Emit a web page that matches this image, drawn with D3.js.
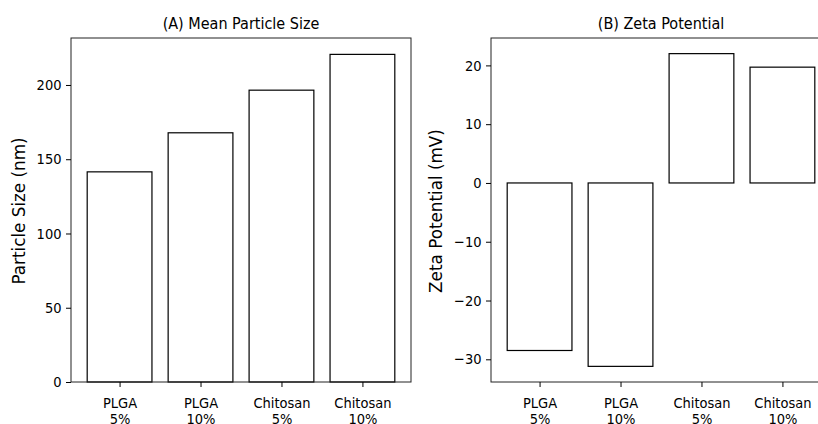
<!DOCTYPE html>
<html lang="en">
<head>
    <meta charset="UTF-8">
    <title>Particle size and zeta potential</title>
    <script src="https://d3js.org/d3.v7.min.js"></script>
    <style>
        body { margin: 0; padding: 0; background: white; overflow: hidden; }
        svg { display: block; }
        .tick text { font-family: 'DejaVu Sans Condensed', 'DejaVu Sans', sans-serif; font-size: 14.5px; fill: #000; }
        .title { font-family: 'DejaVu Sans Condensed', 'DejaVu Sans', sans-serif; font-size: 16px; }
        .ylabel { font-family: 'DejaVu Sans', sans-serif; font-size: 16.8px; }
    </style>
</head>
<body>
<div id="chart"></div>
<script>
    // data
    var categories = ["PLGA\n5%", "PLGA\n10%", "Chitosan\n5%", "Chitosan\n10%"];
    var particleSize = [141.5, 167.8, 196.5, 220.6];
    var zetaPotential = [-28.5, -31.2, 22.0, 19.7];
    var sizeTicks = [0, 50, 100, 150, 200];
    var zetaTicks = [-30, -20, -10, 0, 10, 20];

    var width = 818, height = 424;
    var svg = d3.select("#chart").append("svg")
        .attr("width", width)
        .attr("height", height);

    // two panels, same size; right one runs off the page like the original
    var panels = [
        {x0: 71, title: "(A) Mean Particle Size", label: "Particle Size (nm)", values: particleSize, ticks: sizeTicks, labelX: 24.5},
        {x0: 491, title: "(B) Zeta Potential", label: "Zeta Potential (mV)", values: zetaPotential, ticks: zetaTicks, labelX: 441.5}
    ];
    var topY = 38, bottomY = 382, panelW = 340;

    panels.forEach(function(p) {
        var vmin = Math.min(0, d3.min(p.values));
        var vmax = Math.max(0, d3.max(p.values));
        var pad = (vmax - vmin) * 0.05;
        var lo = vmin < 0 ? vmin - pad : 0;

        var x = d3.scaleLinear().domain([-0.6, categories.length - 0.4]).range([p.x0, p.x0 + panelW]);
        var y = d3.scaleLinear().domain([lo, vmax + pad]).range([bottomY, topY]);

        var g = svg.append("g");

        g.selectAll("rect.bar")
            .data(p.values)
            .enter()
            .append("rect")
            .attr("class", "bar")
            .attr("x", (d, i) => x(i - 0.4))
            .attr("width", x(0.4) - x(-0.4))
            .attr("y", d => y(Math.max(0, d)))
            .attr("height", d => Math.abs(y(d) - y(0)))
            .attr("fill", "white")
            .attr("stroke", "black")
            .attr("stroke-width", 1.2);

        // frame
        g.append("rect")
            .attr("x", p.x0).attr("y", topY)
            .attr("width", panelW).attr("height", bottomY - topY)
            .attr("fill", "none")
            .attr("stroke", "#222")
            .attr("stroke-width", 1);

        var yAxis = d3.axisLeft(y).tickValues(p.ticks).tickSize(5).tickPadding(4.5)
            .tickFormat(d => d < 0 ? "\u2212" + Math.abs(d) : d);
        var ya = g.append("g").attr("transform", "translate(" + p.x0 + ",0)").call(yAxis);
        ya.select(".domain").remove();

        var xAxis = d3.axisBottom(x).tickValues(d3.range(categories.length)).tickSize(5)
            .tickFormat("");
        var xa = g.append("g").attr("transform", "translate(0," + bottomY + ")").call(xAxis);
        xa.select(".domain").remove();
        xa.selectAll(".tick").each(function(d) {
            var t = d3.select(this).select("text").attr("y", 0).attr("dy", null);
            categories[d].split("\n").forEach(function(line, k) {
                t.append("tspan").attr("x", 0).attr("y", 26 + k * 16).text(line);
            });
        });

        g.append("text")
            .attr("class", "title")
            .attr("x", p.x0 + panelW / 2)
            .attr("y", 29)
            .attr("text-anchor", "middle")
            .text(p.title);

        g.append("text")
            .attr("class", "ylabel")
            .attr("transform", "translate(" + p.labelX + ",211) rotate(-90)")
            .attr("text-anchor", "middle")
            .text(p.label);
    });
</script>
</body>
</html>
